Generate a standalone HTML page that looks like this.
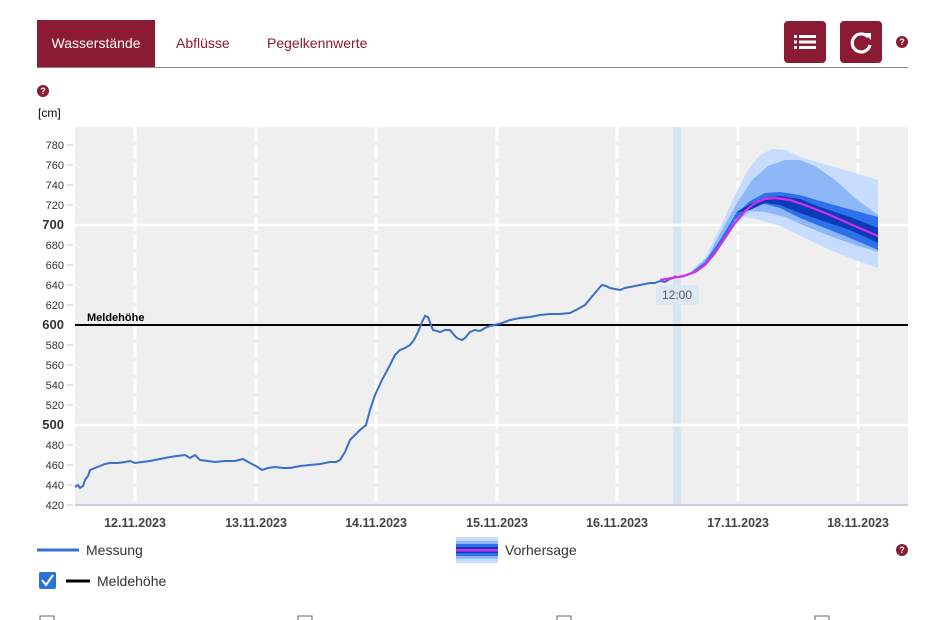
<!DOCTYPE html>
<html><head><meta charset="utf-8"><style>
body{margin:0;width:943px;height:620px;background:#fff;font-family:"Liberation Sans",sans-serif;overflow:hidden;position:relative}
.tab{position:absolute;top:20px;height:47px;line-height:47px;font-size:14px;color:#8a1b33}
.btn{position:absolute;top:21px;width:42px;height:42px;background:#8a1b33;border-radius:4px}
.q{position:absolute;width:12px;height:12px;border-radius:50%;background:#8a1b33;color:#fff;font-size:9px;font-weight:bold;text-align:center;line-height:12px}
</style></head><body>
<div class="tab" style="left:37px;width:118px;background:#8a1b33;color:#fff;text-align:center">Wasserstände</div>
<div class="tab" style="left:176px">Abflüsse</div>
<div class="tab" style="left:267px">Pegelkennwerte</div>
<div style="position:absolute;left:37px;top:67px;width:871px;height:1px;background:#888"></div>
<div class="btn" style="left:784px"><svg width="42" height="42"><g fill="#fff"><rect x="10" y="14" width="3" height="3"/><rect x="15" y="14" width="17" height="3"/><rect x="10" y="19.5" width="3" height="3"/><rect x="15" y="19.5" width="17" height="3"/><rect x="10" y="25" width="3" height="3"/><rect x="15" y="25" width="17" height="3"/></g></svg></div>
<div class="btn" style="left:840px"><svg width="42" height="42"><path d="M28 16 A9 9 0 1 0 30 24" fill="none" stroke="#fff" stroke-width="3.2"/><path d="M24 12 L31 12 L31 19 Z" fill="#fff"/></svg></div>
<div class="q" style="left:896px;top:36px">?</div>
<div class="q" style="left:37px;top:85px">?</div>
<div style="position:absolute;left:38px;top:106px;font-size:12px">[cm]</div>
<svg style="position:absolute;left:0;top:0" width="943" height="620">
<rect x="75" y="127" width="833" height="378" fill="#efefef"/>
<rect x="673" y="127" width="8" height="378" fill="#d7e5f0"/>
<g stroke="#fff" stroke-width="3" stroke-dasharray="14,4">
<line x1="135" y1="127" x2="135" y2="505"/><line x1="256" y1="127" x2="256" y2="505"/><line x1="376" y1="127" x2="376" y2="505"/><line x1="497" y1="127" x2="497" y2="505"/><line x1="617" y1="127" x2="617" y2="505"/><line x1="738" y1="127" x2="738" y2="505"/><line x1="858" y1="127" x2="858" y2="505"/></g>
<g stroke="#fff" stroke-width="2.5"><line x1="75" y1="225" x2="908" y2="225"/><line x1="75" y1="425" x2="908" y2="425"/></g>
<g font-size="11" fill="#333" text-anchor="end">
<text x="64" y="149">780</text><text x="64" y="169">760</text><text x="64" y="189">740</text><text x="64" y="209">720</text><text x="64" y="229" font-size="13" font-weight="bold">700</text><text x="64" y="249">680</text><text x="64" y="269">660</text><text x="64" y="289">640</text><text x="64" y="309">620</text><text x="64" y="329" font-size="13" font-weight="bold">600</text><text x="64" y="349">580</text><text x="64" y="369">560</text><text x="64" y="389">540</text><text x="64" y="409">520</text><text x="64" y="429" font-size="13" font-weight="bold">500</text><text x="64" y="449">480</text><text x="64" y="469">460</text><text x="64" y="489">440</text><text x="64" y="509">420</text></g>
<g stroke="#ccc"><line x1="67" y1="145" x2="73" y2="145"/><line x1="67" y1="165" x2="73" y2="165"/><line x1="67" y1="185" x2="73" y2="185"/><line x1="67" y1="205" x2="73" y2="205"/><line x1="67" y1="245" x2="73" y2="245"/><line x1="67" y1="265" x2="73" y2="265"/><line x1="67" y1="285" x2="73" y2="285"/><line x1="67" y1="305" x2="73" y2="305"/><line x1="67" y1="345" x2="73" y2="345"/><line x1="67" y1="365" x2="73" y2="365"/><line x1="67" y1="385" x2="73" y2="385"/><line x1="67" y1="405" x2="73" y2="405"/><line x1="67" y1="445" x2="73" y2="445"/><line x1="67" y1="465" x2="73" y2="465"/><line x1="67" y1="485" x2="73" y2="485"/><line x1="67" y1="505" x2="73" y2="505"/></g>
<line x1="75" y1="505" x2="908" y2="505" stroke="#ccd" stroke-width="2"/>
<g font-size="12.5" font-weight="bold" fill="#444" text-anchor="middle">
<text x="135" y="527">12.11.2023</text><text x="256" y="527">13.11.2023</text><text x="376" y="527">14.11.2023</text><text x="497" y="527">15.11.2023</text><text x="617" y="527">16.11.2023</text><text x="738" y="527">17.11.2023</text><text x="858" y="527">18.11.2023</text></g>
<line x1="75" y1="325" x2="908" y2="325" stroke="#000" stroke-width="2"/>
<text x="87" y="321" font-size="11" font-weight="bold">Meldehöhe</text>
<polygon fill="#c7dcff" points="676,277 690,272 705,258 720,228 735,195 748,170 760,155 772,149 785,150 800,157 820,163 845,170 878,180 878,268 855,260 830,250 805,238 780,226 760,220 745,217 732,228 718,248 705,264 690,274"/>
<polygon fill="#8db7f7" points="676,277 692,272 708,256 722,230 737,203 752,180 768,166 785,160 800,160 815,166 835,180 855,198 878,215 878,252 855,245 830,236 805,226 785,217 765,212 750,211 738,220 725,240 712,258 695,272"/>
<polygon fill="#2d72ea" points="690,273 705,262 720,240 735,215 750,201 765,193 780,192 800,195 820,201 845,208 878,217 878,250 850,238 825,228 800,218 780,208 765,204 750,206 735,220 720,246 705,265"/>
<polygon fill="#0a3cb8" points="735,213 750,204 765,198 780,196 800,199 820,207 850,217 878,228 878,243 850,230 820,220 800,213 780,205 765,203 750,210"/>
<polyline fill="none" stroke="#3a70c8" stroke-width="2" points="75,487 78,485 80,488 83,486 85,480 88,476 90,470 95,468 100,466 105,464 110,463 118,463 125,462 130,461 135,463 142,462 150,461 160,459 170,457 177,456 185,455 190,458 195,455 200,460 208,461 215,462 225,461 235,461 243,459 250,463 256,466 262,470 268,468 275,467 283,468 290,468 300,466 310,465 320,464 330,462 336,462 340,460 345,452 350,440 355,435 360,430 366,425 370,410 375,395 382,380 390,365 395,355 400,350 405,348 410,345 414,340 418,332 422,322 425,316 428,317 431,325 433,330 437,331 440,332 445,330 450,330 454,335 457,338 462,340 465,338 470,332 475,330 480,331 485,328 490,326 495,325 502,323 510,320 520,318 530,317 540,315 550,314 560,314 570,313 578,309 585,305 590,299 595,293 600,287 602,285 606,286 610,288 615,289 620,290 625,288 630,287 635,286 640,285 645,284 650,283 655,283 660,281 665,282 670,279 673,278 676,276"/>
<polyline fill="none" stroke="#d42ee8" stroke-width="2.2" points="660,280 672,278 684,276 695,272 705,265 715,253 725,238 735,223 745,211 755,203 765,199 775,198 790,200 810,207 830,215 850,224 878,236"/>
<rect x="656" y="285" width="43" height="20" rx="3" fill="#dde8f2"/>
<text x="677" y="299" font-size="12" fill="#556" text-anchor="middle">12:00</text>
<line x1="37" y1="550" x2="79" y2="550" stroke="#3a70c8" stroke-width="3"/>
<text x="86" y="555" font-size="14" fill="#333">Messung</text>
<rect x="456" y="537" width="42" height="26" fill="#c7dcff"/><rect x="456" y="541" width="42" height="18" fill="#8db7f7"/><rect x="456" y="544" width="42" height="12" fill="#2d72ea"/><rect x="456" y="547" width="42" height="6" fill="#0a3cb8"/><rect x="456" y="549" width="42" height="2.5" fill="#d42ee8"/>
<text x="505" y="555" font-size="14" fill="#333">Vorhersage</text>
<rect x="39" y="572" width="17" height="17" rx="2" fill="#2a72d8"/>
<path d="M42 580 L46 585 L53 575" fill="none" stroke="#fff" stroke-width="2"/>
<line x1="66" y1="581" x2="90" y2="581" stroke="#000" stroke-width="3"/>
<text x="97" y="586" font-size="14" fill="#333">Meldehöhe</text>
<g fill="none" stroke="#666"><rect x="40" y="616" width="14" height="10"/><rect x="298" y="616" width="14" height="10"/><rect x="557" y="616" width="14" height="10"/><rect x="815" y="616" width="14" height="10"/></g>
</svg>
<div class="q" style="left:896px;top:544px">?</div>
</body></html>
